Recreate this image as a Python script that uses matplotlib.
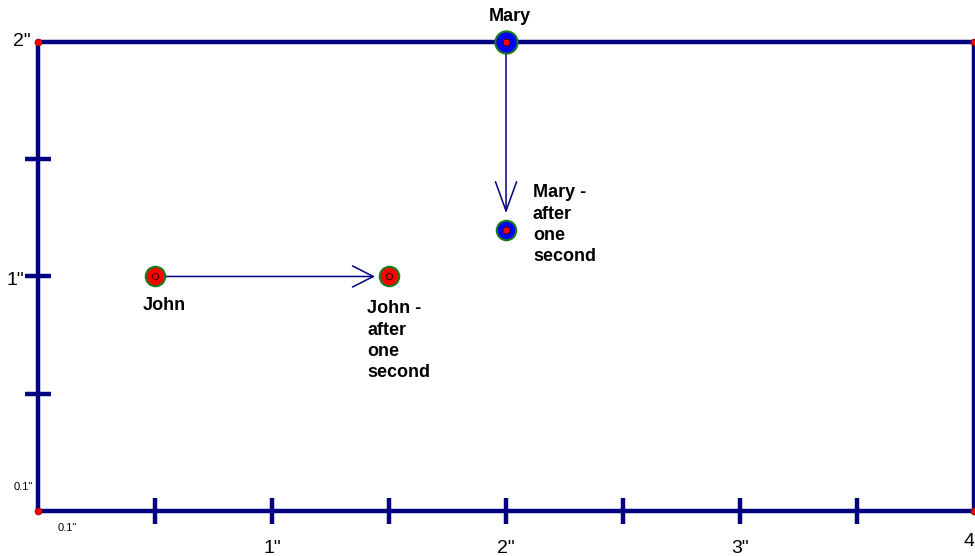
import matplotlib.pyplot as plt

plt.rcParams['font.family'] = ['Liberation Sans', 'DejaVu Sans']

# Params (inches on the drawing)
rect_w, rect_h = 4.0, 2.0
x_ticks = [0.5, 1.0, 1.5, 2.0, 2.5, 3.0, 3.5]
y_ticks = [0.5, 1.0, 1.5]
x_labels = ['1"', '2"', '3"', '4']
x_label_pos = [1.0, 2.0, 3.0, 4.0]
y_labels = ['1"', '2"']
y_label_pos = [1.0, 2.0]

john_start = (0.5, 1.0)
john_end = (1.5, 1.0)
mary_start = (2.0, 2.0)
mary_end = (2.0, 1.2)

navy = '#000080'

fig = plt.figure(figsize=(9.75, 5.56), dpi=100)
ax = fig.add_axes([0, 0, 1, 1])
ax.set_xlim(-0.1624, 4.004)
ax.set_ylim(-0.192, 2.179)
ax.axis('off')

# frame
corners_x = [0, rect_w, rect_w, 0, 0]
corners_y = [0, 0, rect_h, rect_h, 0]
ax.plot(corners_x, corners_y, color=navy, lw=3.2, solid_capstyle='butt', clip_on=False, zorder=2)
ax.plot(x_ticks, [0] * len(x_ticks), '|', color=navy, ms=19, mew=3.2, zorder=2)
ax.plot([0] * len(y_ticks), y_ticks, '_', color=navy, ms=19, mew=3.2, zorder=2)
ax.plot(corners_x[:4], corners_y[:4], 'o', color='red', ms=5, mec='#800000', mew=0.5,
        clip_on=False, zorder=3)

# inch labels
for lab, pos in zip(x_labels[:3], x_label_pos[:3]):
    ax.text(pos, -0.158, lab, fontsize=14, ha='center', va='center')
# the last label sits against the right edge, its quote mark falls off the page
ax.text(x_label_pos[3] + 0.002, -0.132, x_labels[3], fontsize=14, ha='right', va='center')
ax.text(-0.098, y_label_pos[0] - 0.017, y_labels[0], fontsize=14, ha='center', va='center')
ax.text(-0.07, y_label_pos[1] + 0.004, y_labels[1], fontsize=14, ha='center', va='center')
ax.text(-0.064, 0.102, '0.1"', fontsize=8, ha='center', va='center')
ax.text(0.124, -0.072, '0.1"', fontsize=8, ha='center', va='center')

# people
for p in [john_start, john_end]:
    ax.plot(*p, 'o', color='red', ms=14, mec='#1a7a1a', mew=1.5, zorder=4)
    ax.plot(*p, 'o', color='red', ms=4.5, mec='#400000', mew=0.8, zorder=5)
ax.plot(*mary_start, 'o', color='#0000ff', ms=16, mec='#1a7a1a', mew=1.5, zorder=4)
ax.plot(*mary_end, 'o', color='#0000ff', ms=14, mec='#1a7a1a', mew=1.5, zorder=4)
for p in [mary_start, mary_end]:
    ax.plot(*p, 'o', color='red', ms=5, mec='#400000', mew=0.6, zorder=5)

# movement arrows
arrow_style = dict(arrowstyle='->, head_length=0.75, head_width=0.38', color=navy,
                   lw=1.1, shrinkA=0, shrinkB=0, mutation_scale=20)
ax.annotate('', xy=(john_end[0] - 0.06, john_end[1]), xytext=(john_start[0] + 0.04, john_start[1]),
            arrowprops=arrow_style, zorder=3)
ax.annotate('', xy=(mary_end[0], mary_end[1] + 0.07), xytext=mary_start,
            arrowprops=dict(arrow_style, arrowstyle='->, head_length=1.05, head_width=0.38'),
            zorder=3)

# names
bold = dict(fontsize=13, fontweight='bold', linespacing=1.33)
ax.text(0.54, 0.878, 'John', ha='center', va='center', **bold)
ax.text(2.017, 2.107, 'Mary', ha='center', va='center', **bold)
ax.text(1.406, 0.898, 'John -\nafter\none\nsecond', ha='left', va='top', **bold)
ax.text(2.115, 1.393, 'Mary -\nafter\none\nsecond', ha='left', va='top', **bold)

fig.savefig('out.png', dpi=100)
